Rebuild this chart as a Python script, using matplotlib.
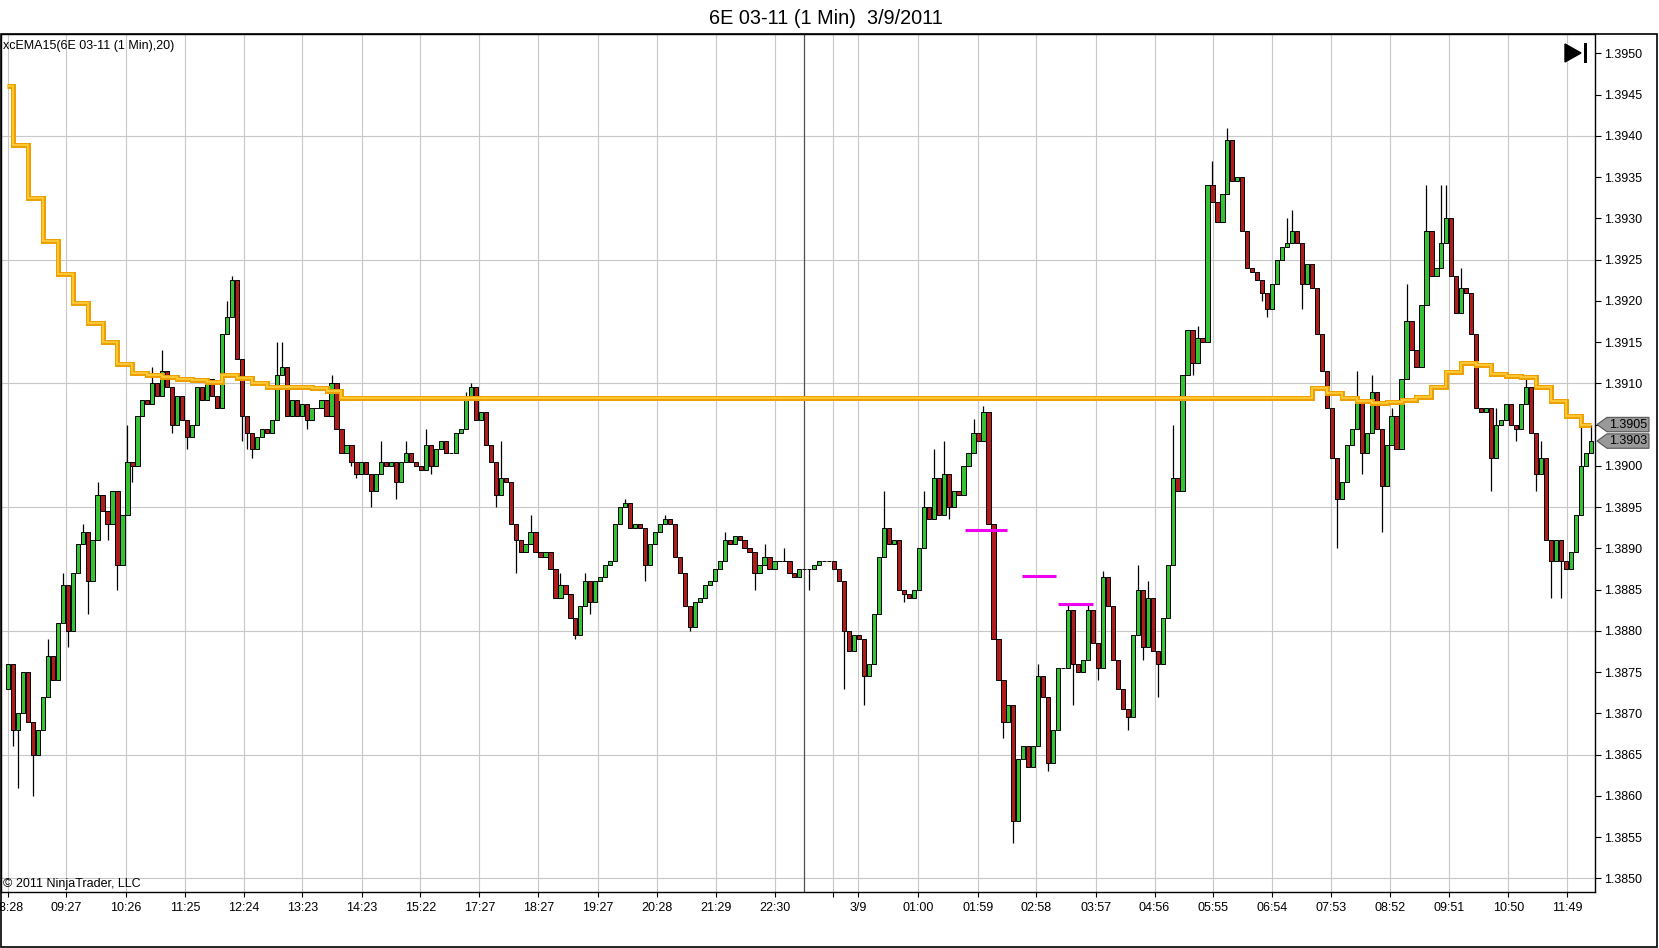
import matplotlib
matplotlib.use("Agg")
import matplotlib.pyplot as plt
import numpy as np
from matplotlib.patches import Polygon, Rectangle
import matplotlib.transforms as mtransforms

plt.rcParams['font.family'] = ['Liberation Sans', 'DejaVu Sans']

# ---------------- data ----------------
BASE = 1.3800          # prices are given in pips above this base
first_open = 73
closes = [
    76, 68, 70, 75, 69, 65, 68, 72, 77, 74,
    81, 85.5, 80, 87, 90.5, 92, 86, 91, 96.5, 94.5,
    93, 97, 88, 94, 100.5, 100, 106, 108, 107.5, 110,
    108.5, 111.5, 109.5, 105, 108.5, 105.5, 103.5, 105, 109.5, 108,
    110.5, 108.5, 107, 116, 118, 122.5, 113, 106, 104, 102,
    103.5, 104.5, 104, 105.5, 111, 112, 106, 108, 106, 107.5,
    105.5, 107, 107, 108, 106, 110, 104.5, 101.5, 102.5, 100.5,
    99, 100.5, 99, 97, 99, 100.5, 100, 100.5, 98, 100.5,
    101.5, 100.5, 100, 99.5, 102.5, 100, 102, 103, 101.5, 101.5,
    104, 104.5, 108, 109.5, 105.5, 106.5, 102.5, 100.5, 96.5, 98.5,
    98, 93, 91, 89.5, 90.5, 92, 89.5, 89, 89.5, 87.5,
    84, 85.5, 84.5, 81.5, 79.5, 83, 86, 83.5, 86, 86.5,
    88, 88.5, 93, 95, 95.5, 92.5, 93, 92.5, 88, 90.5,
    92, 93, 93.5, 93, 89, 87, 83, 80.5, 83.5, 84,
    85.5, 86, 87.5, 88.5, 91, 90.5, 91.5, 91, 90, 89.5,
    87, 88, 89, 87.5, 88.5, 88.5, 88.5, 87, 86.5, 87.5,
    87.5, 87.5, 88, 88.5, 88.5, 88.5, 87.5, 86, 80, 77.5,
    79.5, 79, 74.5, 76, 82, 89, 92.5, 90.5, 91, 85,
    84.5, 84, 85, 90, 95, 93.5, 98.5, 94, 99, 95,
    97, 96.5, 100, 101.5, 104, 103, 106.5, 93, 79, 74,
    69, 71, 57, 64.5, 66, 63.5, 66, 74.5, 72, 64,
    68, 75.5, 75.5, 82.5, 76, 75, 76.5, 82.5, 78.5, 75.5,
    86.5, 83, 76.5, 73, 70.5, 69.5, 79.5, 85, 78, 84,
    77.5, 76, 81.5, 88, 98.5, 97, 111, 116.5, 112.5, 115.5,
    115, 134, 132, 129.5, 133, 139.5, 134.5, 135, 128.5, 124,
    123.5, 122.5, 121, 119, 122, 125, 126.5, 127, 128.5, 127,
    122, 124.5, 121.5, 116, 111.5, 107, 101, 96, 98, 102.5,
    104.5, 108, 101.5, 104, 109, 104.5, 97.5, 102.5, 106, 102,
    110.5, 117.5, 114, 112, 119.5, 128.5, 123, 124, 127, 130,
    123, 118.5, 121.5, 121, 116, 107, 106.5, 107, 101, 105,
    105.5, 107.5, 105, 104.5, 107.5, 109.5, 104, 99, 101, 91,
    88.5, 91, 88.5, 87.5, 89.5, 94, 100, 101.5, 103,
]
# wick extremes (bar index -> pips)
wick_highs = {8: 79, 11: 87, 15: 93, 18: 98, 24: 105, 29: 112, 31: 114, 44: 120,
              45: 123, 54: 115, 55: 115, 65: 111, 75: 103, 80: 103, 84: 104.5,
              92: 109, 93: 110, 99: 103, 105: 94, 111: 87, 116: 87, 124: 96,
              132: 94, 144: 92, 152: 90.5, 156: 90, 176: 97, 184: 97, 186: 102,
              188: 103, 194: 105.7, 196: 107.2, 207: 76, 213: 83.4, 217: 83.4,
              220: 87.2, 227: 88, 229: 86, 234: 105, 239: 117, 242: 137, 245: 141,
              257: 130, 258: 131, 271: 111.5, 274: 111, 278: 107, 281: 122,
              285: 134, 288: 134, 289: 134, 292: 124, 299: 107, 305: 110.5,
              308: 103, 316: 105.7, 318: 105}
wick_lows = {1: 66, 2: 61, 5: 60, 12: 78, 16: 82, 20: 91, 22: 85, 25: 98, 33: 104,
             36: 102, 47: 103, 48: 102, 49: 101, 60: 104.5, 69: 100, 70: 98.5,
             73: 95, 78: 96, 85: 99, 98: 95, 102: 87, 114: 79, 117: 82, 128: 86,
             137: 80, 150: 85, 161: 85, 168: 73, 172: 71, 180: 83.5, 189: 93.5,
             200: 67, 202: 54.3, 209: 63, 214: 71, 219: 74, 225: 68, 228: 76.5,
             231: 72, 238: 111, 252: 120, 253: 118, 260: 119, 267: 90, 272: 99,
             276: 92, 298: 97, 303: 103, 307: 97, 310: 84, 312: 84}

# 15-minute EMA values (pips), one per 3 bars
ema_values = [146.0, 138.9, 132.5, 127.3, 123.2, 119.7, 117.3, 115.0, 112.3, 111.2,
              111.0, 110.8, 110.5, 110.4, 110.2, 111.0, 110.6, 110.0, 109.5, 109.6,
              109.5, 109.4, 109.1] + [108.2] * 65 + \
             [109.4, 108.8, 108.2, 107.8, 107.6, 107.7, 108.0, 108.4, 109.6, 111.4,
              112.5, 112.2, 111.1, 110.9, 110.8, 109.6, 107.9, 106.0, 104.9]

# magenta levels (price) and their bar spans
level_prices = [1.38922, 1.38866, 1.38832]
level_start = [192.3, 203.7, 211.0]
level_end = [200.7, 210.6, 218.0]

tick_labels = ["08:28", "09:27", "10:26", "11:25", "12:24", "13:23", "14:23", "15:22",
               "17:27", "18:27", "19:27", "20:28", "21:29", "22:30", "", "3/9",
               "01:00", "01:59", "02:58", "03:57", "04:56", "05:55", "06:54",
               "07:53", "08:52", "09:51", "10:50", "11:49"]
tick_bars = [-0.06, 11.69, 23.61, 35.52, 47.38, 59.13, 71.05, 82.82, 94.73, 106.59,
             118.50, 130.32, 142.17, 154.09, 165.84, 170.84, 182.92, 194.84, 206.61,
             218.52, 230.36, 242.17, 254.03, 265.88, 277.73, 289.59, 301.45, 313.30]
session_break_bar = 159.86
last_price = 1.3903
ema_last = 1.3905

# ---------------- figure ----------------
W, H = 1659, 948
fig = plt.figure(figsize=(W / 100, H / 100), dpi=100)


def fx(px):
    return px / W


def fy(py):
    return 1 - py / H


AX_L, AX_R, AX_T, AX_B = 1, 1595, 34, 892
ax = fig.add_axes([fx(AX_L), fy(AX_B), (AX_R - AX_L) / W, (AX_B - AX_T) / H])

PX_PER_BAR = 4.977
FIRST_PX = 8
ax.set_xlim((AX_L - FIRST_PX) / PX_PER_BAR, (AX_R - FIRST_PX) / PX_PER_BAR)
ax.set_ylim(1.384834, 1.395234)

# grid
grid_c = '#c8c8c8'
for tb in tick_bars:
    ax.axvline(tb, color=grid_c, lw=0.8, zorder=0)
for gy in np.arange(1.3850, 1.39501, 0.0015):
    ax.axhline(gy, color=grid_c, lw=0.8, zorder=0)
ax.axvline(session_break_bar, color='#505050', lw=0.9, zorder=0.5)

# candles
cl = np.array(closes, dtype=float)
op = np.r_[first_open, cl[:-1]]
n = len(cl)
xs = np.arange(n)
hi = np.maximum(op, cl)
lo = np.minimum(op, cl)
for k, v in wick_highs.items():
    hi[k] = max(hi[k], v)
for k, v in wick_lows.items():
    lo[k] = min(lo[k], v)
to_price = lambda p: BASE + np.asarray(p) / 1e4
ax.vlines(xs, to_price(lo), to_price(hi), color='black', lw=0.9, zorder=2)
up = cl >= op
colors = np.where(up, '#35c235', '#b01c1c')
heights = to_price(cl) - to_price(op)
ax.bar(xs, heights, bottom=to_price(op), width=0.85, color=colors,
       edgecolor='black', linewidth=0.7, zorder=3)

# EMA steps
ne = len(ema_values)
edges = np.r_[-0.2, 1 + 3 * np.arange(ne - 1), n - 1 + 0.1]
ema_p = to_price(ema_values)
ax.stairs(ema_p, edges, baseline=None, color='#eea000', lw=3.6, zorder=4)
ax.stairs(ema_p, edges, baseline=None, color='#ffd040', lw=1.2, zorder=5)

# magenta levels
ax.hlines(level_prices, level_start, level_end, color='#ee00ee', lw=2.2, zorder=6)

# ticks
ax.set_xticks(tick_bars)
ax.set_xticklabels(tick_labels)
ax.tick_params(axis='x', direction='out', length=3.6, width=0.8, pad=3.5,
               labelsize=9, color='black')
ax.yaxis.tick_right()
yt = np.arange(1.3850, 1.39501, 0.0005)
ax.set_yticks(yt)
# the 1.3905 label sits under the price flags, so it is left blank
ax.set_yticklabels(["" if abs(v - ema_last) < 1e-6 else f"{v:.4f}" for v in yt])
ax.tick_params(axis='y', direction='out', length=4.3, width=0.8, pad=2.2,
               labelsize=9, color='black')
for s in ax.spines.values():
    s.set_color('black')
    s.set_linewidth(1.0)

# texts
fig.text(fx(826), fy(19), "6E 03-11 (1 Min)  3/9/2011", ha='center', va='center',
         fontsize=14.3)
fig.text(fx(3), fy(46), "xcEMA15(6E 03-11 (1 Min),20)", ha='left', va='center',
         fontsize=9)
fig.text(fx(3), fy(884), "\u00a9 2011 NinjaTrader, LLC", ha='left', va='center',
         fontsize=9)

# outer frame
fig.add_artist(Rectangle((fx(0.5), fy(947)), (1656.5) / W, (947 - 34) / H,
                         fill=False, ec='black', lw=1.2, transform=fig.transFigure))

# price flags on the right axis
bt = mtransforms.blended_transform_factory(fig.transFigure, ax.transData)
half = 7.2 * (ax.get_ylim()[1] - ax.get_ylim()[0]) / (AX_B - AX_T)
for price in [ema_last, last_price]:
    pts = [(fx(1597), price), (fx(1607), price + half), (fx(1649), price + half),
           (fx(1649), price - half), (fx(1607), price - half)]
    fig.add_artist(Polygon(pts, closed=True, fc='#999999', ec='#555555', lw=0.8,
                           transform=bt, zorder=10, clip_on=False))
    t = fig.text(fx(1628), price, f"{price:.4f}", ha='center', va='center',
                 fontsize=9, zorder=11)
    t.set_transform(bt)

# "jump to end" icon
fig.add_artist(Polygon([(fx(1565), fy(44)), (fx(1565), fy(62)), (fx(1581), fy(53))],
                       closed=True, fc='black', ec='black', transform=fig.transFigure))
fig.add_artist(Rectangle((fx(1583.5), fy(63)), 3.5 / W, 20 / H, fc='black', ec='none',
                         transform=fig.transFigure))

fig.savefig("out.png", dpi=100)
